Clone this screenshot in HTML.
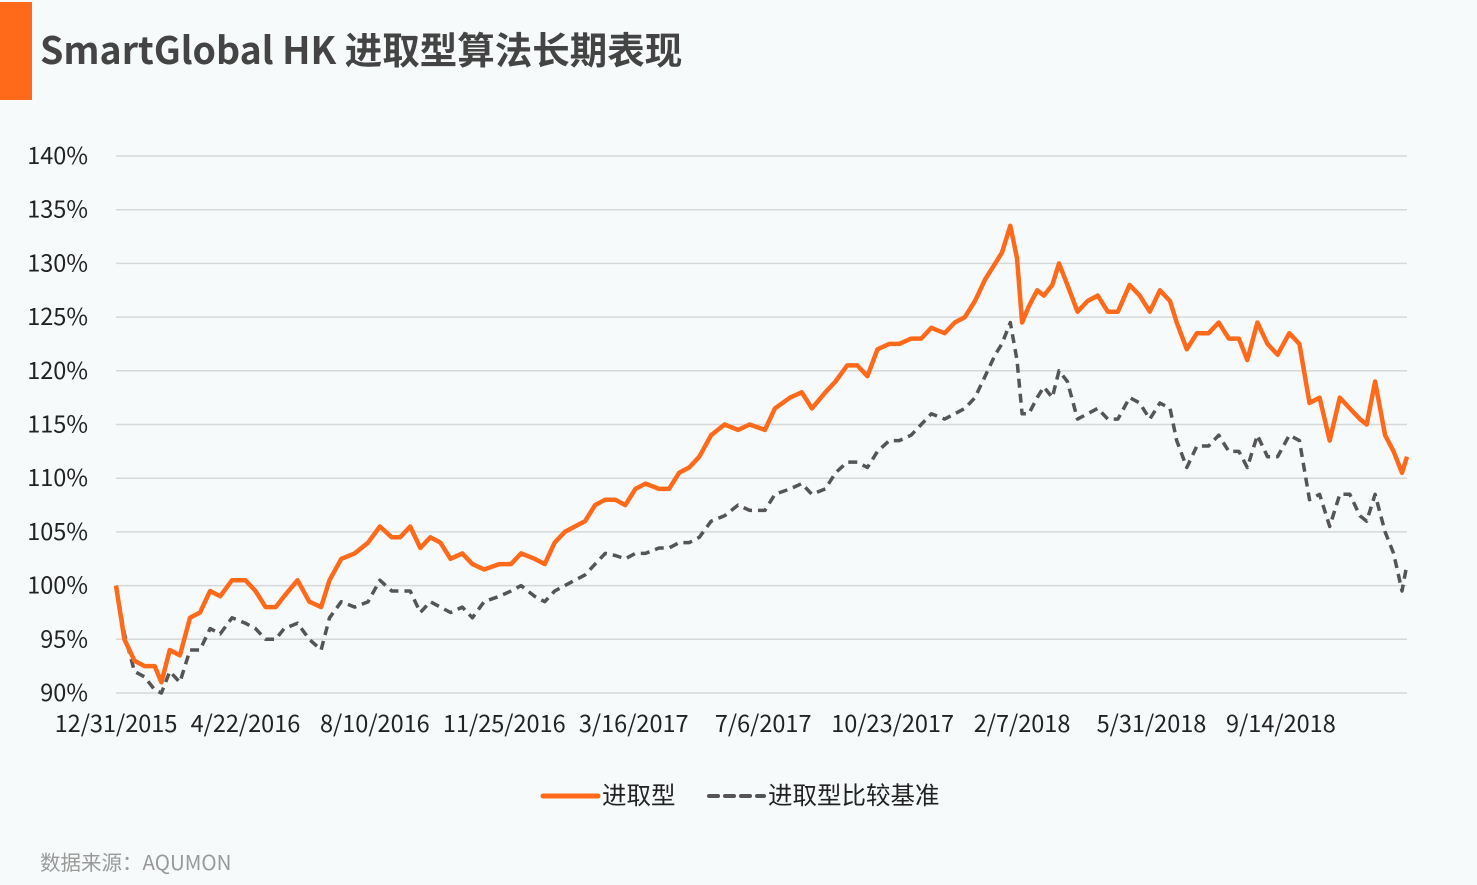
<!DOCTYPE html>
<html><head><meta charset="utf-8">
<style>
html,body{margin:0;padding:0;background:#f7fafb;}
body{width:1477px;height:885px;overflow:hidden;position:relative;font-family:"Liberation Sans","Noto Sans CJK SC",sans-serif;}
#bar{position:absolute;left:0;top:2px;width:32px;height:98px;background:#ff6a1a;}
#title{position:absolute;left:40px;top:22px;font-family:"Noto Sans CJK SC","Liberation Sans",sans-serif;font-weight:bold;font-size:37.5px;color:#444;line-height:52px;}
#src{position:absolute;left:40px;top:846px;font-family:"Noto Sans CJK SC","Liberation Sans",sans-serif;font-size:20.5px;color:#999;}
svg{position:absolute;left:0;top:0;}
</style></head><body>
<div id="bar"></div>
<div id="title">SmartGlobal HK 进取型算法长期表现</div>
<div id="src">数据来源：AQUMON</div>
<svg id="chart" width="1477" height="885"></svg>
<script>
const tickValues=[90,95,100,105,110,115,120,125,130,135,140];
const dateLabels=["12/31/2015","4/22/2016","8/10/2016","11/25/2016","3/16/2017","7/6/2017","10/23/2017","2/7/2018","5/31/2018","9/14/2018"];
const dateLabelIdx=[0,77,154,231,308,385,462,539,616,693];
const days=[0,5,11,17,23,27,32,38,44,50,56,62,69,77,83,89,95,100,108,115,122,127,134,142,150,157,164,169,175,181,187,193,199,206,212,219,228,235,241,249,255,261,267,273,279,285,291,297,303,309,315,323,329,335,341,347,354,362,370,377,386,392,401,408,414,422,428,435,441,447,453,460,466,473,479,485,493,499,505,511,517,523,527,532,536,539,543,548,552,557,561,566,572,578,584,590,596,603,609,615,621,627,631,637,643,650,656,662,668,673,679,685,691,698,704,710,716,722,728,734,740,744,749,755,760,765,768];
const aggressive=[100,95,93,92.5,92.5,91,94,93.5,97,97.5,99.5,99,100.5,100.5,99.5,98,98,99,100.5,98.5,98,100.5,102.5,103,104,105.5,104.5,104.5,105.5,103.5,104.5,104,102.5,103,102,101.5,102,102,103,102.5,102,104,105,105.5,106,107.5,108,108,107.5,109,109.5,109,109,110.5,111,112,114,115,114.5,115,114.5,116.5,117.5,118,116.5,118,119,120.5,120.5,119.5,122,122.5,122.5,123,123,124,123.5,124.5,125,126.5,128.5,130,131,133.5,130.5,124.5,126,127.5,127,128,130,128,125.5,126.5,127,125.5,125.5,128,127,125.5,127.5,126.5,124.5,122,123.5,123.5,124.5,123,123,121,124.5,122.5,121.5,123.5,122.5,117,117.5,113.5,117.5,116.5,115.5,115,119,114,112.5,110.5,112];
const benchmark=[100,95.5,92,91.5,90.3,90,92,91,94,94,96,95.5,97,96.5,96,95,95,96,96.5,95,94,97,98.5,98,98.5,100.5,99.5,99.5,99.5,97.5,98.5,98,97.5,98,97,98.5,99,99.5,100,99,98.5,99.5,100,100.5,101,102,103,102.8,102.5,103,103,103.5,103.5,104,104,104.5,106,106.5,107.5,107,107,108.5,109,109.5,108.5,109,110.5,111.5,111.5,111,112.5,113.5,113.5,114,115,116,115.5,116,116.5,117.5,119.5,121.5,122.5,124.5,121,116,116,117.5,118.5,117.5,120,119,115.5,116,116.5,115.5,115.5,117.5,117,115.5,117,116.5,113.5,111,113,113,114,112.5,112.5,111,114,112,112,114,113.5,108,108.5,105.5,108.5,108.5,106.5,106,108.5,105,103,99.5,102];

const X0=116, X1=1407, Y0=693, Y1=156, DMAX=768;
const xs=d=>X0+(d/DMAX)*(X1-X0);
const ys=v=>Y0-(v-90)/50*(Y0-Y1);
const svg=document.getElementById('chart');
const NS='http://www.w3.org/2000/svg';
const FONT='"Noto Sans CJK SC","Liberation Sans",sans-serif';
function mk(tag,attrs){const e=document.createElementNS(NS,tag);for(const k in attrs)e.setAttribute(k,attrs[k]);svg.appendChild(e);return e;}
tickValues.forEach(v=>{
  const g=mk('line',{x1:X0,x2:X1,y1:ys(v),y2:ys(v),stroke:'#d6d8da','stroke-width':1.5});
  
  
  const t=mk('text',{x:88,y:ys(v)+8,'text-anchor':'end','font-size':23.5,fill:'#222','font-family':FONT});
  t.textContent=v+'%';
  
  
});
dateLabels.forEach((l,i)=>{
  const t=mk('text',{x:xs(dateLabelIdx[i]),y:732,'text-anchor':'middle','font-size':23.5,fill:'#222','font-family':FONT});
  t.textContent=l;
  
  
});
function path(vals){return vals.map((v,i)=>(i?'L':'M')+xs(days[i]).toFixed(1)+','+ys(v).toFixed(1)).join('');}
const b=mk('path',{d:path(benchmark),fill:'none',stroke:'#555','stroke-width':3.5,'stroke-dasharray':'9,6','stroke-linejoin':'round'});


const a=mk('path',{d:path(aggressive),fill:'none',stroke:'#ff6a1a','stroke-width':4.5,'stroke-linejoin':'round'});


const l1=mk('line',{x1:543,x2:598,y1:796,y2:796,stroke:'#ff6a1a','stroke-width':5,'stroke-linecap':'round'});


const t1=mk('text',{x:602,y:804,'font-size':24.5,fill:'#222','font-family':FONT});
t1.textContent='进取型';


const l2=mk('line',{x1:709,x2:764,y1:796,y2:796,stroke:'#555','stroke-width':4,'stroke-dasharray':'9,7','stroke-linecap':'round'});


const t2=mk('text',{x:768,y:804,'font-size':24.5,fill:'#222','font-family':FONT});
t2.textContent='进取型比较基准';


</script>
</body></html>
